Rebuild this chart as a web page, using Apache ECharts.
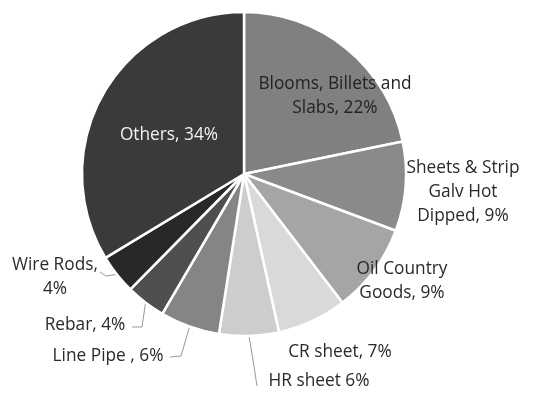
<!DOCTYPE html>
<html>
<head>
<meta charset="utf-8">
<script src="https://cdn.jsdelivr.net/npm/echarts@6/dist/echarts.min.js"></script>
<style>
html,body{margin:0;padding:0;background:#fff;}
#chart{width:534px;height:394px;}
</style>
</head>
<body>
<div id="chart"></div>
<script>
const categories = ["Blooms, Billets and\nSlabs", "Sheets & Strip\nGalv Hot\nDipped", "Oil Country\nGoods", "CR sheet", "HR sheet", "Line Pipe ", "Rebar", "Wire Rods", "Others"];
const labelTexts = ["Blooms, Billets and\nSlabs, 22%", "Sheets & Strip\nGalv Hot\nDipped, 9%", "Oil Country\nGoods, 9%", "CR sheet, 7%", "HR sheet 6%", "Line Pipe , 6%", "Rebar, 4%", "Wire Rods,\n4%", "Others, 34%"];
const values = [22, 9, 9, 7, 6, 6, 4, 4, 34];
const colors = ["#808080", "#8a8a8a", "#a5a5a5", "#d9d9d9", "#cdcdcd", "#858585", "#4f4f4f", "#282828", "#3a3a3a"];
const textColors = ["#222", "#2a2a2a", "#2a2a2a", "#2a2a2a", "#2a2a2a", "#2a2a2a", "#2a2a2a", "#2a2a2a", "#f2f2f2"];
const hasLine = [false, false, false, false, true, true, true, true, false];
// label placement (center of text block) and leader line bends
const labelPos = [[335, 96], [463, 192], [402, 281], [340, 352], [319, 381], [108, 356], [85, 325], [55, 277], [169, 135]];
const lineBends = [null, null, null, null, [[253, 360], [257, 386]], [[181, 356], [170, 357]], [[142, 327], [132, 327]], [[106, 276], [100, 272]], null];

const chart = echarts.init(document.getElementById('chart'));
chart.setOption({
  animation: false,
  backgroundColor: '#fff',
  series: [{
    type: 'pie',
    center: [244, 174],
    radius: 162,
    startAngle: 90,
    clockwise: true,
    avoidLabelOverlap: false,
    itemStyle: { borderColor: '#fff', borderWidth: 2.5 },
    label: {
      show: true,
      position: 'outside',
      fontFamily: 'Open Sans',
      fontSize: 17.3,
      lineHeight: 24,
      align: 'center',
      formatter: p => labelTexts[p.dataIndex]
    },
    labelLine: { show: true, lineStyle: { color: '#999', width: 1 } },
    labelLayout: function (params) {
      const i = params.dataIndex;
      const pos = labelPos[i];
      const out = { x: pos[0], y: pos[1], align: 'center', verticalAlign: 'middle' };
      if (hasLine[i] && params.labelLinePoints) {
        const s = params.labelLinePoints[0];
        out.labelLinePoints = [[s[0], s[1]], lineBends[i][0], lineBends[i][1]];
      }
      return out;
    },
    data: categories.map((c, i) => ({
      name: c,
      value: values[i],
      itemStyle: { color: colors[i] },
      label: { color: textColors[i] },
      labelLine: { show: hasLine[i] }
    }))
  }]
});
</script>
</body>
</html>
